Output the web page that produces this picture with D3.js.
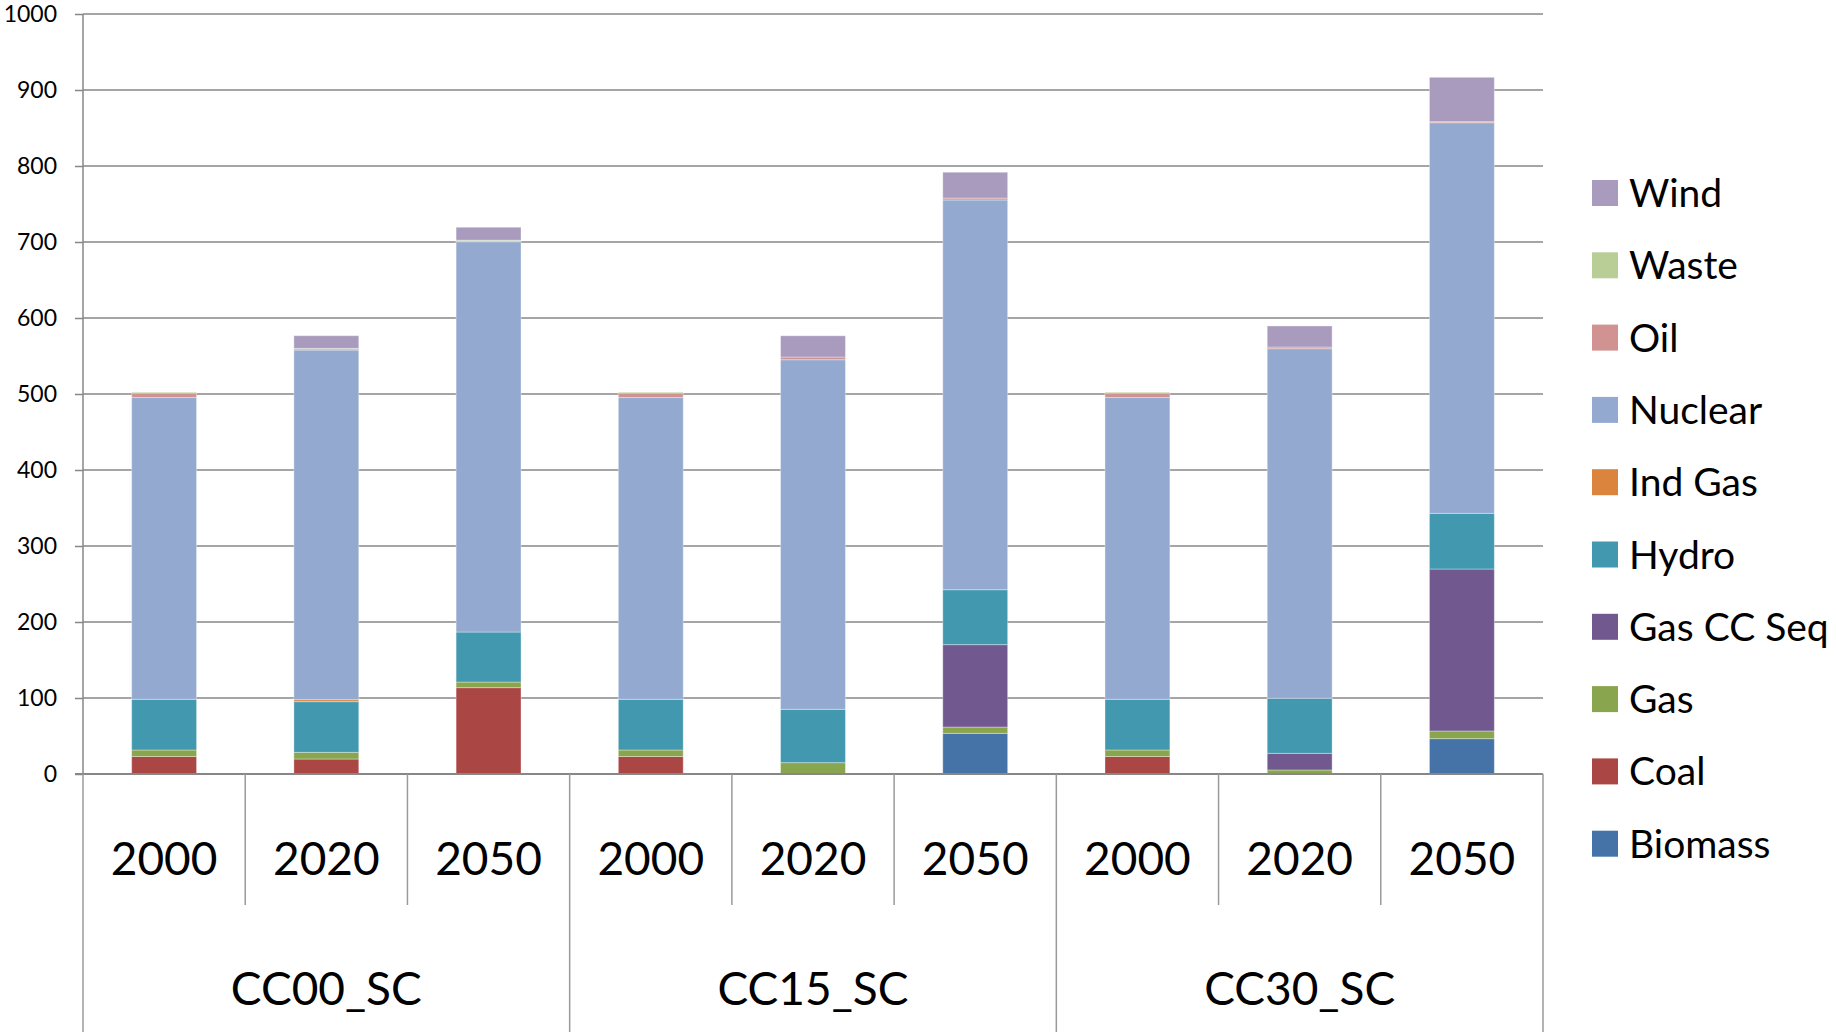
<!DOCTYPE html>
<html>
<head>
<meta charset="utf-8">
<script src="https://cdn.jsdelivr.net/npm/d3@7"></script>
<style>
    body { margin: 0; background: #fff; }
    svg { display: block; font-family: Lato, "Open Sans", sans-serif; }
</style>
</head>
<body>
<div id="chart"></div>
<script>
// categories
const groups = ["CC00_SC", "CC15_SC", "CC30_SC"];
const years = ["2000", "2020", "2050"];

// series values, one per bar: CC00 2000/2020/2050, CC15 ..., CC30 ...
const biomass  = [0,    0,    0,     0,    0,    53.5,  0,    0,    46.5];
const coal     = [23,   19.7, 113.6, 23,   0,    0,     23,   0,    0];
const gas      = [8.6,  8.8,  7.4,   8.6,  14.9, 8.3,   8.6,  5.3,  10.1];
const gasCCSeq = [0,    0,    0,     0,    0,    108.4, 0,    21.9, 213.1];
const hydro    = [66.7, 66.7, 65.8,  66.7, 70.2, 72.3,  66.7, 72.4, 73.3];
const indGas   = [0,    2.6,  0,     0,    0,    0,     0,    0,    0];
const nuclear  = [397,  460,  513.6, 397,  460,  512.8, 397,  460,  514];
const oil      = [6,    1.5,  0.8,   6,    3.5,  2.5,   6,    2.2,  1.3];
const waste    = [1,    0.7,  1.2,   1,    0,    0,     1,    0,    0];
const wind     = [0,    16.7, 17,    0,    28,   34,    0,    27.7, 58.4];

const seriesNames = ["Biomass", "Coal", "Gas", "Gas CC Seq", "Hydro", "Ind Gas", "Nuclear", "Oil", "Waste", "Wind"];
const seriesValues = [biomass, coal, gas, gasCCSeq, hydro, indGas, nuclear, oil, waste, wind];
const seriesColors = ["#4572A7", "#AA4643", "#89A54E", "#71588F", "#4198AF", "#DB843D", "#93A9CF", "#D19392", "#B9CD96", "#A99BBD"];

const yTicks = [0, 100, 200, 300, 400, 500, 600, 700, 800, 900, 1000];

const width = 1836, height = 1032;
const margin = { top: 14, left: 83 };
const plotW = 1460, plotH = 760;
const gridColor = "#878787";

// one row per bar
const cats = [];
groups.forEach(function (g) {
    years.forEach(function (y) { cats.push(g + "|" + y); });
});
const rows = cats.map(function (c, i) {
    const r = { cat: c };
    seriesNames.forEach(function (s, k) { r[s] = seriesValues[k][i]; });
    return r;
});

const svg = d3.select("#chart").append("svg")
    .attr("width", width)
    .attr("height", height);

const g = svg.append("g")
    .attr("transform", "translate(" + margin.left + "," + margin.top + ")");

const xScale = d3.scaleBand()
    .domain(cats)
    .range([0, plotW])
    .paddingInner(0.6)
    .paddingOuter(0.3);

const yScale = d3.scaleLinear()
    .domain([0, 1000])
    .range([plotH, 0]);

const colorScale = d3.scaleOrdinal()
    .domain(seriesNames)
    .range(seriesColors);

// gridlines
g.append("g")
    .selectAll("line")
    .data(yTicks.slice(1))
    .enter().append("line")
    .attr("x1", 0)
    .attr("x2", plotW)
    .attr("y1", function (d) { return yScale(d); })
    .attr("y2", function (d) { return yScale(d); })
    .attr("stroke", gridColor)
    .attr("stroke-width", 1.5);

// y axis
const yAxis = g.append("g")
    .call(d3.axisLeft(yScale).tickValues(yTicks).tickFormat(d3.format("d")).tickSize(8).tickPadding(18));
yAxis.attr("font-size", null).attr("font-family", null);
yAxis.selectAll("path, line")
    .attr("stroke", gridColor)
    .attr("stroke-width", 1.5);
yAxis.select(".domain").attr("d", "M0," + plotH + "V0");
yAxis.selectAll("text")
    .style("font-family", "Lato, sans-serif")
    .style("font-size", "23px")
    .attr("fill", "#000");

// stacked bars
const stacked = d3.stack().keys(seriesNames)(rows);

g.append("g")
    .selectAll("g")
    .data(stacked)
    .enter().append("g")
    .attr("fill", function (d) { return colorScale(d.key); })
    .selectAll("rect")
    .data(function (d) { return d; })
    .enter().append("rect")
    .attr("x", function (d) { return xScale(d.data.cat); })
    .attr("width", xScale.bandwidth())
    .attr("y", function (d) { return yScale(d[1]); })
    .attr("height", function (d) { return yScale(d[0]) - yScale(d[1]); })
    .attr("stroke", "#fff")
    .attr("stroke-opacity", function (d) { return d[1] - d[0] > 0 ? 0.35 : 0; })
    .attr("stroke-width", 1);

// x axis line at zero
g.append("line")
    .attr("x1", -8)
    .attr("x2", plotW)
    .attr("y1", plotH)
    .attr("y2", plotH)
    .attr("stroke", gridColor)
    .attr("stroke-width", 2);

// category dividers below the axis
const step = xScale.step();
g.append("g")
    .selectAll("line")
    .data(d3.range(cats.length + 1))
    .enter().append("line")
    .attr("x1", function (i) { return i * step; })
    .attr("x2", function (i) { return i * step; })
    .attr("y1", plotH)
    .attr("y2", function (i) { return i % years.length === 0 ? height - margin.top : plotH + 131; })
    .attr("stroke", "#9a9a9a")
    .attr("stroke-width", 1.5);

// year labels
g.append("g")
    .selectAll("text")
    .data(cats)
    .enter().append("text")
    .attr("x", function (d) { return xScale(d) + xScale.bandwidth() / 2; })
    .attr("y", 861)
    .attr("text-anchor", "middle")
    .style("font-size", "46px")
    .text(function (d) { return d.split("|")[1]; });

// group labels
g.append("g")
    .selectAll("text")
    .data(groups)
    .enter().append("text")
    .attr("x", function (d, i) { return (i + 0.5) * step * years.length; })
    .attr("y", 991)
    .attr("text-anchor", "middle")
    .style("font-size", "46px")
    .text(function (d) { return d; });

// legend, top entry is the last series
const legend = svg.selectAll("g.legend")
    .data(seriesNames.slice().reverse())
    .enter().append("g")
    .attr("class", "legend")
    .attr("transform", function (d, i) { return "translate(1592," + (193 + i * 72.3) + ")"; });

legend.append("rect")
    .attr("x", 0)
    .attr("y", -13)
    .attr("width", 26)
    .attr("height", 26)
    .attr("fill", function (d) { return colorScale(d); });

legend.append("text")
    .attr("x", 37)
    .attr("y", 0)
    .attr("dy", "0.36em")
    .style("font-size", "39px")
    .text(function (d) { return d; });
</script>
</body>
</html>
